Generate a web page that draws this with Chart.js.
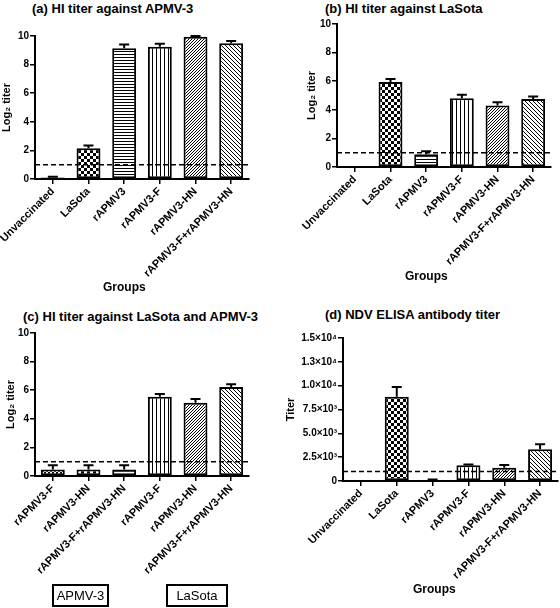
<!DOCTYPE html>
<html>
<head>
<meta charset="utf-8">
<script src="https://cdn.jsdelivr.net/npm/chart.js@4.4.0/dist/chart.umd.min.js"></script>
<style>
body{margin:0;background:#fff;width:560px;height:608px;position:relative;overflow:hidden;font-family:'Liberation Sans',Arial,sans-serif;color:#000}
canvas{position:absolute}
.t{position:absolute;font-weight:bold;font-size:13px;line-height:13px;white-space:nowrap}
.g{position:absolute;font-weight:bold;font-size:12px;line-height:12px;white-space:nowrap}
.box{position:absolute;border:2px solid #000;box-sizing:border-box;font-size:13px;height:23px;line-height:19px;text-align:center}
</style>
</head>
<body>
<div class="t" style="left:32px;top:2px">(a) HI titer against APMV-3</div>
<div class="t" style="left:325px;top:2px">(b) HI titer against LaSota</div>
<div class="t" style="left:23px;top:310px">(c) HI titer against LaSota and APMV-3</div>
<div class="t" style="left:325px;top:308px">(d) NDV ELISA antibody titer</div>

<canvas id="chartA" width="280" height="300" style="left:0;top:0"></canvas>
<canvas id="chartB" width="280" height="300" style="left:280px;top:0"></canvas>
<canvas id="chartC" width="280" height="308" style="left:0;top:300px"></canvas>
<canvas id="chartD" width="280" height="308" style="left:280px;top:300px"></canvas>

<div class="g" style="left:103px;top:281px">Groups</div>
<div class="g" style="left:405px;top:270px">Groups</div>
<div class="g" style="left:413px;top:583px">Groups</div>

<div class="box" style="left:52px;top:584px;width:57px">APMV-3</div>
<div class="box" style="left:166px;top:584px;width:62px">LaSota</div>

<script>
// groups on the x axis
var groups = ['Unvaccinated', 'LaSota', 'rAPMV3', 'rAPMV3-F', 'rAPMV3-HN', 'rAPMV3-F+rAPMV3-HN'];
var groupsC = ['rAPMV3-F', 'rAPMV3-HN', 'rAPMV3-F+rAPMV3-HN', 'rAPMV3-F', 'rAPMV3-HN', 'rAPMV3-F+rAPMV3-HN'];

// (a) HI titer against APMV-3 (log2)
var hiApmv3 = [0.1, 2.15, 9.15, 9.25, 9.95, 9.5];
var hiApmv3Err = [0.05, 0.2, 0.25, 0.2, 0.05, 0.15];

// (b) HI titer against LaSota (log2)
var hiLasota = [0, 5.95, 0.9, 4.8, 4.3, 4.75];
var hiLasotaErr = [0, 0.2, 0.2, 0.25, 0.22, 0.18];

// (c) HI titer against LaSota and APMV-3 (log2)
var hiBoth = [0.45, 0.45, 0.45, 5.55, 5.13, 6.22];
var hiBothErr = [0.3, 0.3, 0.3, 0.18, 0.25, 0.2];

// (d) NDV ELISA antibody titer
var elisa = [0, 8850, 100, 1650, 1400, 3320];
var elisaErr = [0, 1000, 60, 80, 280, 530];

var elisaTicks = [0, 2500, 5000, 7500, 10000, 12500, 15000];
var elisaTickLabels = ['0', '2.5×10³', '5.0×10³', '7.5×10³', '1.0×10⁴', '1.3×10⁴', '1.5×10⁴'];

var hiCutoff = 1;
var elisaCutoff = 1000;

Chart.defaults.font.family = "'Liberation Sans', Arial, sans-serif";
Chart.defaults.color = '#000';

//
// fill patterns
//
function makePattern(kind) {
	var c = document.createElement('canvas');
	var size = 4;
	if (kind == 'checker') size = 6;
	if (kind == 'hlines' || kind == 'diagUp') size = 3;
	c.width = size;
	c.height = size;
	var x = c.getContext('2d');
	x.fillStyle = '#fff';
	x.fillRect(0, 0, size, size);
	x.fillStyle = '#000';
	if (kind == 'checker') {
		x.fillRect(0, 0, 3, 3);
		x.fillRect(3, 3, 3, 3);
	} else if (kind == 'fine') {
		x.fillRect(0, 0, 2, 2);
		x.fillRect(2, 2, 2, 2);
	} else if (kind == 'hlines') {
		x.fillRect(0, 0, size, 1);
	} else if (kind == 'vlines') {
		x.fillRect(0, 0, 1, size);
	} else if (kind == 'diagUp') {
		for (var i = 0; i < size; i++) x.fillRect(size - 1 - i, i, 1, 1);
	} else if (kind == 'diagDown') {
		for (var j = 0; j < size; j++) x.fillRect(j, j, 1, 1);
	} else {
		return '#fff';
	}
	return x.createPattern(c, 'repeat');
}

var fillsAB = ['plain', 'checker', 'hlines', 'vlines', 'diagUp', 'diagDown'].map(makePattern);
var fillsC = ['fine', 'checker', 'hlines', 'vlines', 'diagUp', 'diagDown'].map(makePattern);

// error bars (upper only) and the dashed cut-off line
var errorBars = {
	id: 'errorBars',
	afterDatasetsDraw: function(chart, args, opts) {
		var ctx = chart.ctx;
		var ds = chart.data.datasets[0];
		var yScale = chart.scales.y;
		var area = chart.chartArea;
		ctx.save();
		ctx.strokeStyle = '#000';
		ctx.lineWidth = 2;
		chart.getDatasetMeta(0).data.forEach(function(bar, i) {
			if (!ds.errors[i]) return;
			var top = yScale.getPixelForValue(ds.data[i] + ds.errors[i]);
			ctx.beginPath();
			ctx.moveTo(bar.x, bar.y);
			ctx.lineTo(bar.x, top);
			ctx.moveTo(bar.x - 5, top);
			ctx.lineTo(bar.x + 5, top);
			ctx.stroke();
		});
		var yc = yScale.getPixelForValue(opts.cutoff);
		ctx.setLineDash([5, 3]);
		ctx.lineWidth = 1.5;
		ctx.beginPath();
		ctx.moveTo(area.left, yc);
		ctx.lineTo(area.right + 1, yc);
		ctx.stroke();
		ctx.restore();
	}
};

function createBarChart(id, labels, values, errors, fills, cutoff, yMax, yStep, yTitle, box) {
	var ctx = document.getElementById(id);
	var yTicks = {stepSize: yStep, color: '#000', font: {size: 10, weight: 'bold'}, padding: 1};
	if (yMax > 100) {
		yTicks.callback = function(v) {
			return elisaTickLabels[elisaTicks.indexOf(v)];
		};
	}
	return new Chart(ctx, {
		type: 'bar',
		data: {
			labels: labels,
			datasets: [{
				data: values,
				errors: errors,
				backgroundColor: fills,
				borderColor: '#000',
				borderWidth: 2,
				borderSkipped: false,
				barPercentage: 0.67,
				categoryPercentage: 1
			}]
		},
		plugins: [errorBars],
		options: {
			responsive: false,
			devicePixelRatio: 1,
			animation: false,
			layout: {padding: {left: 0, top: box.top, right: box.right, bottom: 0}},
			plugins: {
				legend: {display: false},
				tooltip: {enabled: false},
				errorBars: {cutoff: cutoff}
			},
			scales: {
				x: {
					ticks: {color: '#000', font: {size: 11, weight: 'bold'}, minRotation: 45, maxRotation: 45, autoSkip: false, padding: 1},
					grid: {display: true, drawOnChartArea: false, offset: false, color: '#000', lineWidth: 1.5, tickLength: 5},
					border: {color: '#000', width: 2},
					afterFit: function(s) { s.height = box.xHeight; s.paddingLeft = 0; s.paddingRight = 0; }
				},
				y: {
					min: 0,
					max: yMax,
					ticks: yTicks,
					grid: {display: true, drawOnChartArea: false, color: '#000', lineWidth: 1.5, tickLength: 5},
					border: {color: '#000', width: 2},
					title: {display: true, text: yTitle, color: '#000', font: {size: 11, weight: 'bold'}, padding: {top: box.titlePad, bottom: 0}},
					afterFit: function(s) { s.width = box.yWidth; s.paddingTop = 0; s.paddingBottom = 0; }
				}
			}
		}
	});
}

createBarChart('chartA', groups, hiApmv3, hiApmv3Err, fillsAB, hiCutoff, 10, 2, 'Log₂ titer',
	{top: 36, right: 31, xHeight: 121, yWidth: 35, titlePad: 0});
createBarChart('chartB', groups, hiLasota, hiLasotaErr, fillsAB, hiCutoff, 10, 2, 'Log₂ titer',
	{top: 24, right: 9, xHeight: 133, yWidth: 57, titlePad: 25});
createBarChart('chartC', groupsC, hiBoth, hiBothErr, fillsC, hiCutoff, 10, 2, 'Log₂ titer',
	{top: 33, right: 31, xHeight: 132, yWidth: 35, titlePad: 4});
createBarChart('chartD', groups, elisa, elisaErr, fillsAB, elisaCutoff, 15000, 2500, 'Titer',
	{top: 38, right: 2, xHeight: 127, yWidth: 63, titlePad: 4});
</script>
</body>
</html>
